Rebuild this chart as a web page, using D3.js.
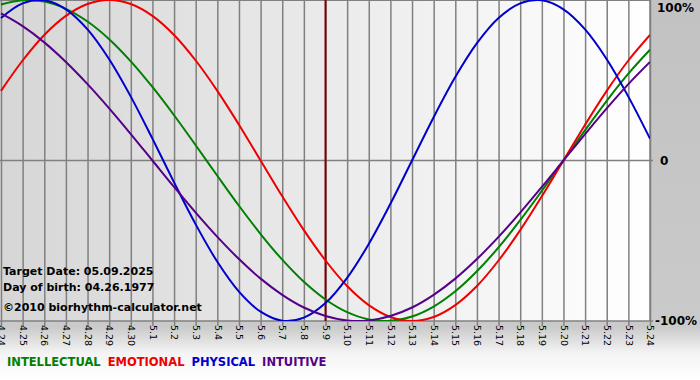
<!DOCTYPE html>
<html><head><meta charset="utf-8">
<script src="https://cdn.jsdelivr.net/npm/d3@7"></script>
<style>body{margin:0;background:#fff}svg{display:block}</style>
</head><body>
<svg id="c" width="700" height="380"></svg>
<script>
const days = ["4.24","4.25","4.26","4.27","4.28","4.29","4.30","5.1","5.2","5.3","5.4","5.5","5.6","5.7","5.8","5.9","5.10","5.11","5.12","5.13","5.14","5.15","5.16","5.17","5.18","5.19","5.20","5.21","5.22","5.23","5.24"];
const intellectual = [0.972,0.999,0.990,0.945,0.866,0.756,0.618,0.458,0.282,0.095,-0.095,-0.282,-0.458,-0.618,-0.756,-0.866,-0.945,-0.990,-0.999,-0.972,-0.910,-0.815,-0.690,-0.541,-0.372,-0.189,0,0.189,0.372,0.541,0.690];
const emotional = [0.434,0.623,0.782,0.901,0.975,1,0.975,0.901,0.782,0.623,0.434,0.223,0,-0.223,-0.434,-0.623,-0.782,-0.901,-0.975,-1,-0.975,-0.901,-0.782,-0.623,-0.434,-0.223,0,0.223,0.434,0.623,0.782];
const physical = [0.888,0.979,0.998,0.942,0.817,0.631,0.398,0.136,-0.136,-0.398,-0.631,-0.817,-0.942,-0.998,-0.979,-0.888,-0.731,-0.520,-0.270,0,0.270,0.520,0.731,0.888,0.979,0.998,0.942,0.817,0.631,0.398,0.136];
const intuitive = [0.916,0.837,0.736,0.614,0.476,0.325,0.165,0,-0.165,-0.325,-0.476,-0.614,-0.736,-0.837,-0.916,-0.969,-0.997,-0.997,-0.969,-0.916,-0.837,-0.736,-0.614,-0.476,-0.325,-0.165,0,0.165,0.325,0.476,0.614];
const targetDay = "5.9";
const yTicks = [1, 0, -1];
const yTickLabels = ["100%", "0", "-100%"];
const infoLines = ["Target Date: 05.09.2025", "Day of birth: 04.26.1977", "\u00A92010 biorhythm-calculator.net"];
const series = [
  {name:"INTELLECTUAL", values:intellectual, color:"#008000"},
  {name:"EMOTIONAL", values:emotional, color:"#ee0000"},
  {name:"PHYSICAL", values:physical, color:"#0000cc"},
  {name:"INTUITIVE", values:intuitive, color:"#550088"}
];

const svg = d3.select("#c");
const W = 700, H = 380;
const L = 1, R = 650, T = 0, B = 321;
const font = "Verdana, 'DejaVu Sans', sans-serif";

const defs = svg.append("defs");
const bg = defs.append("linearGradient").attr("id","bg").attr("x1",0).attr("y1",0).attr("x2",0).attr("y2",1);
bg.append("stop").attr("offset","0").attr("stop-color","#c2c2c2");
bg.append("stop").attr("offset","0.86").attr("stop-color","#cacaca");
bg.append("stop").attr("offset","0.93").attr("stop-color","#f4f4f4");
bg.append("stop").attr("offset","1").attr("stop-color","#ffffff");
const pg = defs.append("linearGradient").attr("id","pg").attr("x1",0).attr("y1",0).attr("x2",1).attr("y2",0);
pg.append("stop").attr("offset","0").attr("stop-color","#d6d6d6");
pg.append("stop").attr("offset","1").attr("stop-color","#ffffff");
defs.append("clipPath").attr("id","clip").append("rect").attr("x",0).attr("y",T).attr("width",R).attr("height",B-T);

svg.append("rect").attr("width",W).attr("height",H).attr("fill","url(#bg)");
svg.append("rect").attr("x",0).attr("y",T).attr("width",R).attr("height",B-T).attr("fill","url(#pg)");

const x = d3.scalePoint().domain(days).range([L, R]);
const y = d3.scaleLinear().domain([-1, 1]).range([B, T]);

const xAxis = d3.axisBottom(x).tickSize(B - T + 5).tickSizeOuter(0);
const gx = svg.append("g").attr("transform",`translate(0,${T})`).call(xAxis);
gx.select(".domain").remove();
gx.selectAll(".tick line").attr("stroke","#808080").attr("stroke-width",1.5);
gx.selectAll(".tick text")
  .attr("transform",`translate(0,${B-T+4}) rotate(90)`)
  .attr("x",0).attr("y",0).attr("dy","0.35em")
  .style("text-anchor","start")
  .attr("font-family",font).attr("font-size",9.5).attr("fill","#000");

svg.append("line").attr("x1",0).attr("x2",R+3).attr("y1",y(0)).attr("y2",y(0)).attr("stroke","#808080").attr("stroke-width",1.5);
svg.append("line").attr("x1",0).attr("x2",R).attr("y1",y(1)+0.5).attr("y2",y(1)+0.5).attr("stroke","#808080").attr("stroke-width",1);
svg.append("line").attr("x1",0).attr("x2",R+3).attr("y1",y(-1)).attr("y2",y(-1)).attr("stroke","#808080").attr("stroke-width",1.5);
svg.append("line").attr("x1",R).attr("x2",R).attr("y1",T).attr("y2",B).attr("stroke","#808080").attr("stroke-width",1.5);

svg.selectAll("text.ylab").data(yTicks).enter().append("text").attr("class","ylab")
  .attr("x",(d,i)=> i===2 ? 655 : (i===1 ? 660 : 657))
  .attr("y",d=>Math.min(Math.max(y(d),8),B)).attr("dy","0.35em")
  .attr("font-family",font).attr("font-weight","bold").attr("font-size",12).attr("fill","#000")
  .text((d,i)=>yTickLabels[i]);

svg.append("line").attr("x1",x(targetDay)).attr("x2",x(targetDay)).attr("y1",T).attr("y2",B)
  .attr("stroke","#800000").attr("stroke-width",2);

const line = d3.line().x((d,i)=>x(days[i])).y(d=>y(d)).curve(d3.curveCatmullRom.alpha(0.5));
const gl = svg.append("g").attr("clip-path","url(#clip)");
series.forEach(s=>{
  gl.append("path").attr("d",line(s.values)).attr("fill","none").attr("stroke",s.color).attr("stroke-width",2);
});

svg.selectAll("text.info").data(infoLines).enter().append("text").attr("class","info")
  .attr("x",3).attr("y",(d,i)=>[275,291,311][i])
  .attr("font-family",font).attr("font-weight","bold").attr("font-size",11).attr("fill","#000")
  .text(d=>d);

const lg = svg.append("text").attr("x",7).attr("y",366).attr("font-family",font).attr("font-weight","bold").attr("font-size",11.5);
series.forEach((s,i)=>{
  lg.append("tspan").attr("fill",s.color).attr("dx", i ? 3 : 0).text((i?" ":"")+s.name);
});
</script>
</body></html>
